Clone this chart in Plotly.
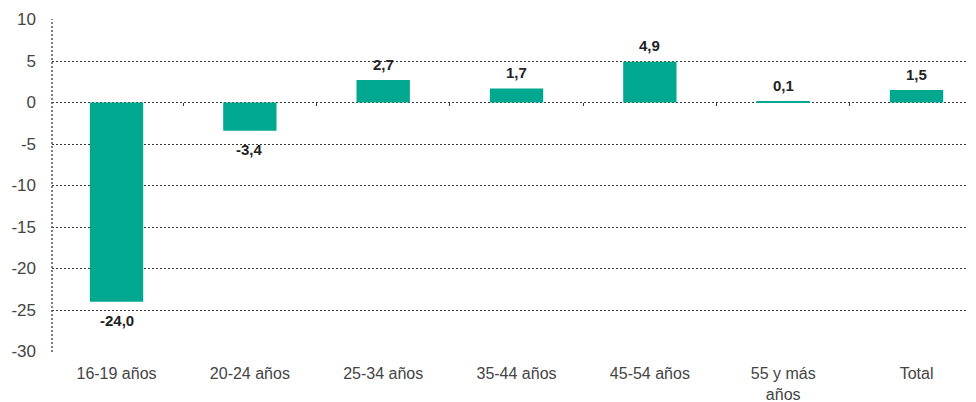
import plotly.graph_objects as go

categories = ["16-19 años", "20-24 años", "25-34 años", "35-44 años", "45-54 años", "55 y más<br>años", "Total"]
values = [-24.0, -3.4, 2.7, 1.7, 4.9, 0.1, 1.5]
y_ticks = [10, 5, 0, -5, -10, -15, -20, -25, -30]

labels = [f"{v:.1f}".replace(".", ",") for v in values]
x_idx = list(range(len(categories)))

GRID = "#3a3a3a"
DASH = "2px,2px"

fig = go.Figure()
fig.add_trace(go.Bar(
    x=x_idx, y=values, width=0.4,
    marker=dict(color="#00A88F", line=dict(width=0)),
    hoverinfo="skip",
))
# invisible trace to carry boundary ticks along zero line
fig.add_trace(go.Scatter(x=[-0.5, 6.5], y=[0, 0], xaxis="x2", mode="lines",
                         line=dict(width=0), showlegend=False, hoverinfo="skip"))

for xi, v, lab in zip(x_idx, values, labels):
    fig.add_annotation(
        x=xi, y=v, text=lab, showarrow=False,
        yshift=16 if v >= 0 else -19,
        font=dict(family="Liberation Sans", size=15, color="#222222", weight="bold"),
    )

# page body has an 8px default margin, so the figure is sized/offset to compensate
fig.update_layout(
    width=968, height=394,
    margin=dict(l=44, r=0, t=11, b=50, autoexpand=False),
    plot_bgcolor="white", paper_bgcolor="white",
    showlegend=False,
    font=dict(family="Liberation Sans", color="#444444", size=17),
    xaxis=dict(
        range=[-0.484, 6.446], tickvals=x_idx, ticktext=categories,
        showgrid=False, zeroline=False, showline=False, ticks="",
        tickfont=dict(size=16, color="#444444"), automargin=False,
        ticklabelstandoff=10,
    ),
    xaxis2=dict(
        range=[-0.484, 6.446], overlaying="x", anchor="free", position=0.75,
        tickvals=[0.5, 1.5, 2.5, 3.5, 4.5, 5.5], showticklabels=False,
        ticks="outside", ticklen=3, tickcolor=GRID, tickwidth=1,
        showgrid=False, zeroline=False, showline=False, automargin=False,
    ),
    yaxis=dict(
        range=[-30.06, 10.06], tickvals=y_ticks, ticktext=[str(t) for t in y_ticks],
        showgrid=True, gridcolor=GRID, griddash=DASH, gridwidth=1.3,
        zeroline=False, showline=False, ticks="", ticklabelstandoff=15,
        tickfont=dict(size=17, color="#444444"), automargin=False,
    ),
)
fig.add_shape(type="line", xref="paper", yref="paper", x0=0, x1=0, y0=0, y1=1,
              line=dict(color=GRID, width=1.3, dash=DASH), layer="above")

fig.write_html("out.html")
